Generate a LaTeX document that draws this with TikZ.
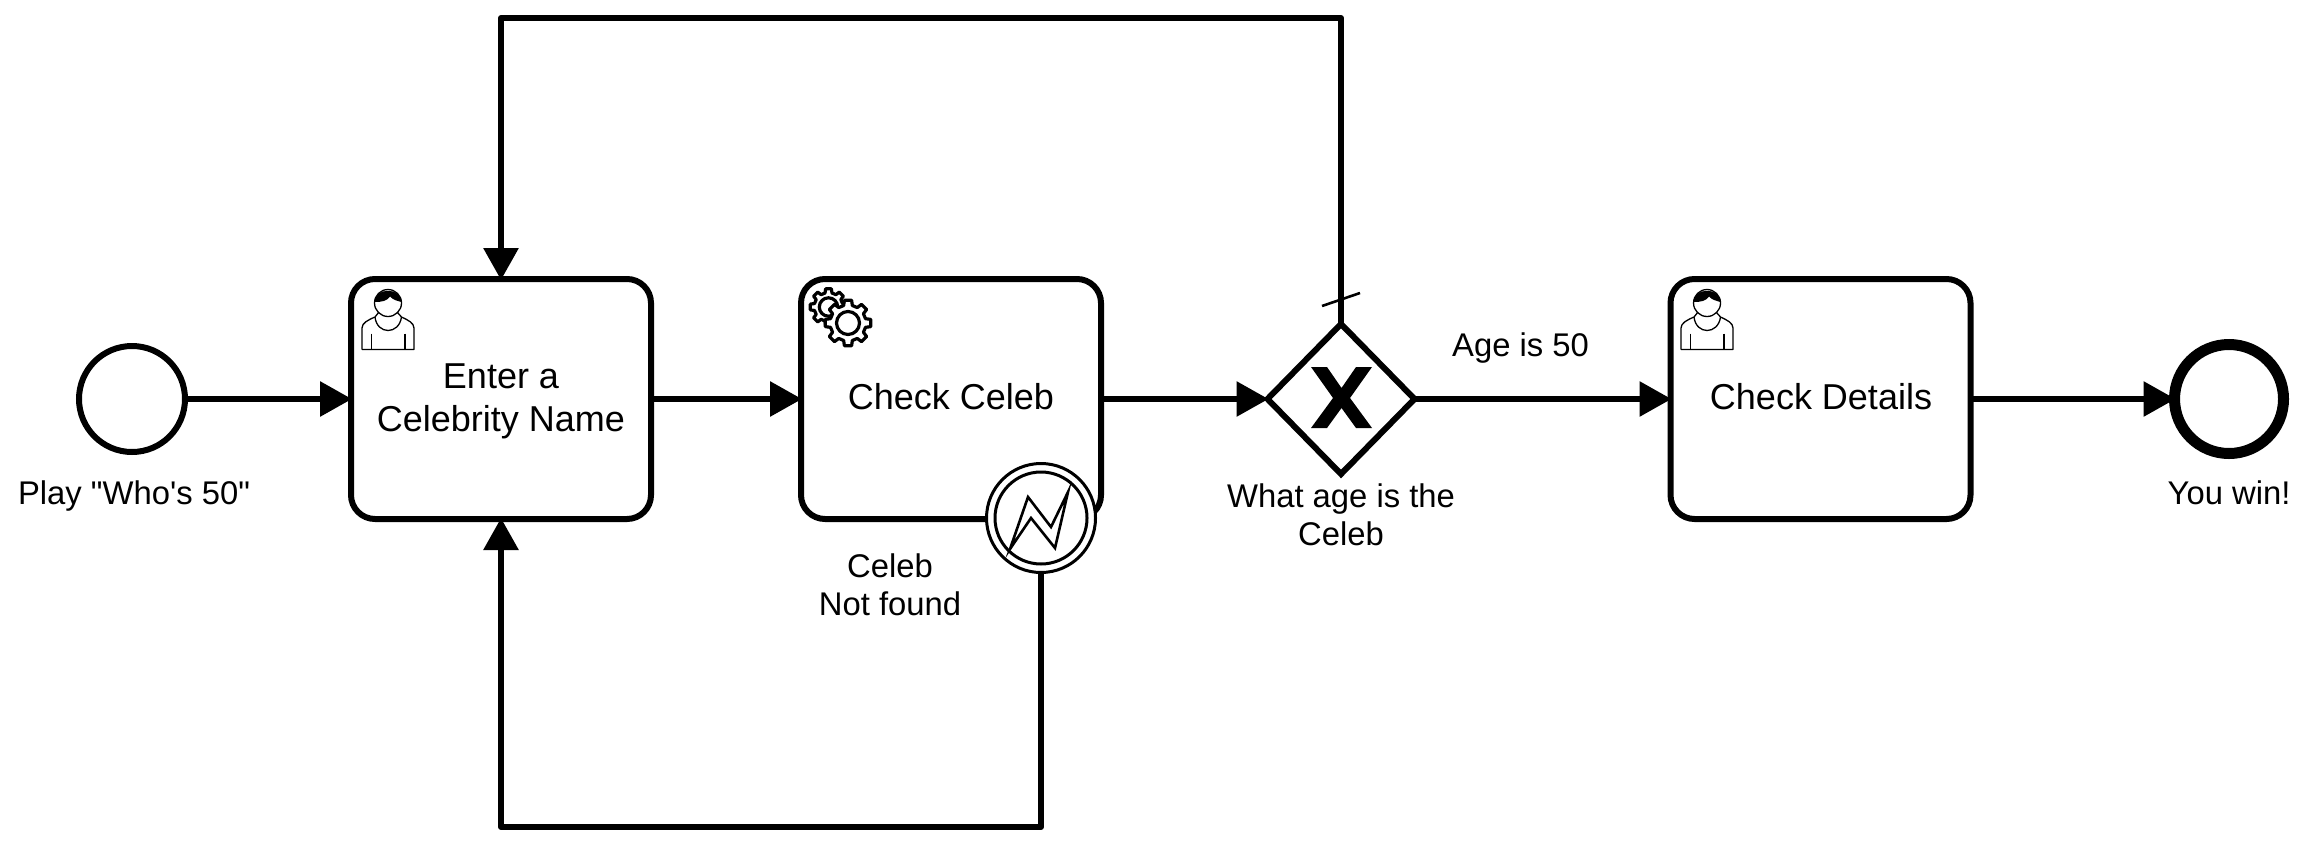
\documentclass[tikz,border=0pt]{standalone}
\usepackage{fontspec}
\usetikzlibrary{arrows.meta,shapes.geometric}
\newfontfamily\labelfont{Liberation Sans}
\tikzset{
  taskbox/.style={draw=black,fill=white,line width=3pt,rounded corners=12pt,minimum width=150pt,minimum height=120pt,inner sep=0pt,outer sep=0pt},
  tasklabel/.style={align=center,inner sep=0pt,font=\labelfont\fontsize{18}{21.4}\selectfont},
  eventlabel/.style={align=center,inner sep=0pt,font=\labelfont\fontsize{16.4}{19}\selectfont},
  flow/.style={draw=black,line width=3pt,line join=round,shorten >=-.5pt,-{Triangle[length=16pt,width=17pt]}},
  gearwheel/.pic={
    \draw[fill=white,line width=1.6pt,line join=round] (-14:18) \foreach \a in {0,45,...,315} { -- (\a-14:18) -- (\a-9:23) -- (\a+9:23) -- (\a+14:18) } -- cycle;
    \draw[line width=1.6pt] (0,0) circle[radius=11.5];
  },
  usericon/.pic={
    \draw[line width=.65pt,fill=white] (26,13) ellipse[x radius=13.5,y radius=13.5];
    \draw[line width=.65pt,line join=round] (0,59.5) -- (0,38) .. controls (0,33) and (6,30) .. (13,27) -- (17,22);
    \draw[line width=.65pt,line join=round] (0,59.5) -- (52,59.5) -- (52,38) .. controls (52,33) and (46,30) .. (39.5,27) -- (35,22);
    \draw[line width=.65pt] (13,27) .. controls (15,45) and (37,45) .. (39.5,27);
    \draw[line width=.65pt] (9.5,43.5) -- (9.5,59.5) (43,43.5) -- (43,59.5);
    \fill (12.5,12) .. controls (12.5,-3) and (39.5,-3) .. (39.5,12) .. controls (36,11) and (31,10) .. (28,6.5) .. controls (25,11) and (20,12) .. (12.5,12) -- cycle;
  }
}
\begin{document}
\begin{tikzpicture}[x=.5pt,y=-.5pt]
\useasboundingbox (0,0) rectangle (2310,846);
% events and tasks
\node[draw=black,fill=white,circle,line width=3pt,minimum size=53pt,inner sep=0pt,outer sep=0pt] (start) at (132,399) {};
\node[eventlabel] (startlabel) at (134,496) {Play "Who's 50"};
\node[taskbox] (enter) at (501,399) {};
\node[tasklabel] (entertext) at (501,401.5) {Enter a\\Celebrity Name};
\node[taskbox] (check) at (951,399) {};
\node[tasklabel] (checktext) at (951,397) {Check Celeb};
\node[taskbox] (details) at (1820.5,399) {};
\node[tasklabel] (detailstext) at (1821,397) {Check Details};
\node[draw=black,fill=white,diamond,aspect=1,line width=3pt,minimum width=73.5pt,minimum height=75pt,inner sep=0pt,outer sep=0pt] (agegate) at (1341,399) {};
\node[eventlabel] (agelabel) at (1341,514.5) {What age is the\\Celeb};
\node[eventlabel] (winlabel) at (1520.5,348) {Age is 50};
\node[draw=black,fill=white,circle,line width=5.5pt,minimum size=54.5pt,inner sep=0pt,outer sep=0pt] (finish) at (2229,399) {};
\node[eventlabel] (finishlabel) at (2229,493) {You win!};
\node[draw=black,fill=white,circle,line width=1.5pt,minimum size=54.5pt,inner sep=0pt,outer sep=0pt] (notfound) at (1041,518) {};
\node[draw=black,circle,line width=1.5pt,minimum size=46pt,inner sep=0pt,outer sep=0pt] (notfoundinner) at (1041,518) {};
\node[eventlabel] (notfoundlabel) at (890,584.5) {Celeb\\Not found};
% markers
\pic at (362,290) {usericon};
\pic at (1681,290) {usericon};
\pic[scale=.8] at (828.5,307) {gearwheel};
\pic at (848,323) {gearwheel};
\draw[line width=1.3pt,line join=miter] (1010,549) -- (1028,497) -- (1051,527) -- (1068,492) -- (1055,548) -- (1031,518) -- cycle;
\fill (1311,367) -- (1327,367) -- (1341.5,388) -- (1356,367) -- (1372,367) -- (1350,398) -- (1372,428) -- (1356,428) -- (1341.5,408) -- (1327,428) -- (1311,428) -- (1333,398) -- cycle;
% sequence flows
\coordinate (topright) at (1341,18);
\coordinate (topleft) at (501,18);
\coordinate (bottomright) at (1041,827);
\coordinate (bottomleft) at (501,827);
\draw[flow] (start) -- (enter);
\draw[flow] (enter) -- (check);
\draw[flow] (check) -- (agegate);
\draw[flow] (agegate) -- (details);
\draw[flow] (details) -- (finish);
\draw[flow] (agegate.north) -- (topright) -- (topleft) -- (enter.north);
\draw[flow] (notfound.south) -- (bottomright) -- (bottomleft) -- (enter.south);
\coordinate (tickstart) at (1322,306);
\coordinate (tickend) at (1360,293);
\draw[line width=1.3pt] (tickstart) -- (tickend);
\end{tikzpicture}
\end{document}
